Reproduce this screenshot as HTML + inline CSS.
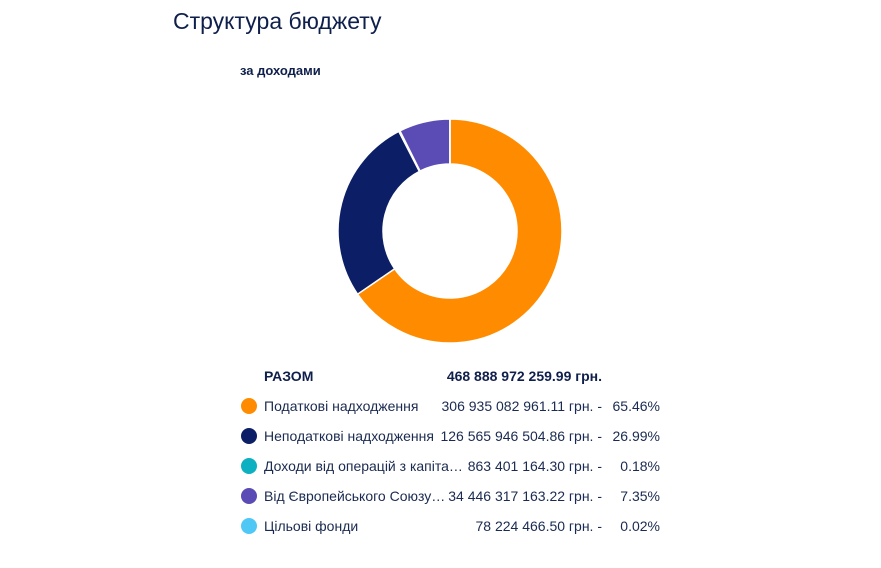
<!DOCTYPE html>
<html><head><meta charset="utf-8">
<style>
body{margin:0;width:881px;height:568px;background:#fff;font-family:"Liberation Sans",sans-serif;color:#0f1f4b;position:relative;overflow:hidden}
.title{position:absolute;left:173px;top:8px;font-size:23px;color:#0f1f4b}
.sub{position:absolute;left:240px;top:63px;font-size:13px;font-weight:bold}
.row{position:absolute;left:240px;width:420px;height:20px;font-size:14px;line-height:20px;color:#1a2a50}
.dot{position:absolute;left:1px;top:2px;width:16px;height:16px;border-radius:50%}
.name{position:absolute;left:24px;white-space:nowrap}
.amt{position:absolute;right:58px;white-space:nowrap}
.pct{position:absolute;right:0;white-space:nowrap}
</style></head><body>
<div class="title">Структура бюджету</div>
<div class="sub">за доходами</div>
<svg id="donut" width="881" height="568" style="position:absolute;left:0;top:0"></svg>
<div class="row" style="top:366px;font-weight:bold;color:#0f1f4b">
<span class="name" style="left:24px">РАЗОМ</span><span class="amt" style="right:58px">468 888 972 259.99 грн.</span></div>
<div id="legend"></div>
<script>
const categories=["Податкові надходження","Неподаткові надходження","Доходи від операцій з капіта…","Від Європейського Союзу…","Цільові фонди"];
const values=[65.46,26.99,0.18,7.35,0.02];
const amounts=["306 935 082 961.11 грн. -","126 565 946 504.86 грн. -","863 401 164.30 грн. -","34 446 317 163.22 грн. -","78 224 466.50 грн. -"];
const pctLabels=["65.46%","26.99%","0.18%","7.35%","0.02%"];
const colors=["#ff8c00","#0c1f66","#0cb0c0","#5a4bb5","#4fc8f5"];
const NS="http://www.w3.org/2000/svg";
const svg=document.getElementById('donut');
const cx=450,cy=231,R=112,r=67;
const total=values.reduce((a,b)=>a+b,0);
let acc=0;
function pt(rad,f){const a=f*2*Math.PI-Math.PI/2;return [cx+rad*Math.cos(a),cy+rad*Math.sin(a)];}
values.forEach((v,i)=>{
  const f0=acc/total,f1=(acc+v)/total;acc+=v;
  const large=(f1-f0)>0.5?1:0;
  const [x0,y0]=pt(R,f0),[x1,y1]=pt(R,f1),[x2,y2]=pt(r,f1),[x3,y3]=pt(r,f0);
  const p=document.createElementNS(NS,'path');
  p.setAttribute('d',`M${x0},${y0}A${R},${R} 0 ${large} 1 ${x1},${y1}L${x2},${y2}A${r},${r} 0 ${large} 0 ${x3},${y3}Z`);
  p.setAttribute('fill',colors[i]);p.setAttribute('stroke','#fff');p.setAttribute('stroke-width','1.5');
  
  
  svg.appendChild(p);
});
const lg=document.getElementById('legend');
categories.forEach((c,i)=>{
  const d=document.createElement('div');d.className='row';d.style.top=(396+i*30)+'px';
  
  
  d.innerHTML=`<span class="dot" style="background:${colors[i]}"></span><span class="name">${c}</span><span class="amt">${amounts[i]}</span><span class="pct">${pctLabels[i]}</span>`;
  lg.appendChild(d);
});
</script>
</body></html>
